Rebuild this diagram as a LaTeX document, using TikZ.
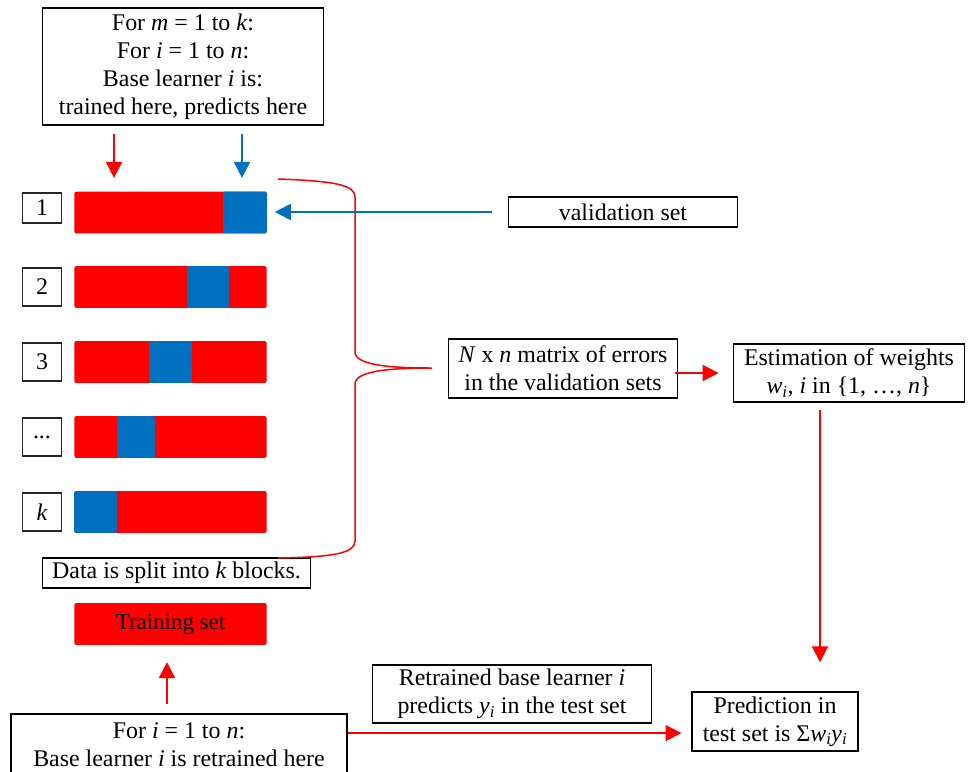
\documentclass[tikz,border=0pt]{standalone}
\usepackage{fontspec}
\setmainfont{Liberation Serif}
\usepackage{tikz}
\usetikzlibrary{arrows.meta, positioning}
\definecolor{SplitRed}{RGB}{255, 0, 0}
\definecolor{FoldBlue}{RGB}{0, 112, 192}

\begin{document}
\begin{tikzpicture}[
        x=1bp, y=-1bp,
        every node/.style={font=\fontsize{24}{28}\selectfont, align=center, inner sep=0pt},
        textbox/.style={rectangle, draw=black, line width=1.8pt, text centered},
        idxbox/.style={rectangle, draw=black!85, line width=1.5pt, minimum width=39pt, minimum height=38pt},
        databar/.style={rectangle, rounded corners=2pt, fill=SplitRed, minimum width=193pt, minimum height=42pt},
        foldbar/.style={rectangle, rounded corners=2pt, fill=FoldBlue, minimum height=42pt},
        redarrow/.style={line width=1.8pt, SplitRed, -{Triangle[length=16pt, width=16pt]}},
        bluearrow/.style={line width=1.8pt, FoldBlue, -{Triangle[length=16pt, width=16pt]}}
    ]
        \useasboundingbox (0,0) rectangle (970,772);

        \node (loop) [textbox, minimum width=282pt, minimum height=117pt] at (183,66.5) {For \textit{m} = 1 to \textit{k}:\\For \textit{i} = 1 to \textit{n}:\\Base learner \textit{i} is:\\trained here, predicts here};

        % the k folds
        \node (bar1) [databar] at (170.5,212.5) {};
        \node (fold1) [foldbar, minimum width=44pt] at (245,212.5) {};
        \node (bar2) [databar] at (170.5,287) {};
        \node (fold2) [foldbar, minimum width=42pt] at (208,287) {};
        \node (bar3) [databar] at (170.5,362) {};
        \node (fold3) [foldbar, minimum width=43pt] at (170.5,362) {};
        \node (bar4) [databar] at (170.5,437) {};
        \node (fold4) [foldbar, minimum width=38pt] at (136,437) {};
        \node (bar5) [databar] at (170.5,512) {};
        \node (fold5) [foldbar, minimum width=43pt] at (95.5,512) {};

        \node (idx1) [idxbox, minimum height=30pt, left=12bp of bar1, yshift=4.5pt] {1};
        \node (idx2) [idxbox, left=12bp of bar2] {2};
        \node (idx3) [idxbox, left=12bp of bar3] {3};
        \node (idx4) [idxbox, left=12bp of bar4] {...};
        \node (idx5) [idxbox, left=12bp of bar5] {\textit{k}};

        \node (valset) [textbox, minimum width=230pt, minimum height=30pt] at (623,212) {validation set};
        \node (errors) [textbox, minimum width=230pt, minimum height=59pt] at (563,368.5) {\textit{N} x \textit{n} matrix of errors\\in the validation sets};
        \node (weights) [textbox, minimum width=232pt, minimum height=58pt] at (849,373) {Estimation of weights\\\textit{w}\textsubscript{\textit{i}}, \textit{i} in \{1, …, \textit{n}\}};
        \node (split) [textbox, minimum width=269pt, minimum height=30pt] at (176.5,573) {Data is split into \textit{k} blocks.};
        \node (trainset) [databar, font=\fontsize{23}{28}\selectfont] at (170.5,624) {Training set};
        \node (retrain) [textbox, minimum width=338pt, minimum height=62pt] at (179,745) {For \textit{i} = 1 to \textit{n}:\\Base learner \textit{i} is retrained here};
        \node (retest) [textbox, minimum width=280pt, minimum height=58pt] at (512,694) {Retrained base learner \textit{i}\\predicts \textit{y}\textsubscript{\textit{i}} in the test set};
        \node (pred) [textbox, minimum width=166pt, minimum height=59pt] at (775,721.5) {Prediction in\\test set is Σ\textit{w}\textsubscript{\textit{i}}\textit{y}\textsubscript{\textit{i}}};

        \coordinate (trainin) at (114,0);
        \coordinate (predin) at (242,0);
        \coordinate (wdrop) at (820,0);
        \coordinate (updrop) at (167,0);
        \coordinate (testrow) at ([yshift=12pt]retrain.east);

        % brace over the folds
        \draw [SplitRed, line width=1.5pt] (278,179) .. controls (335,181) and (355,185) .. (355,197) -- (355,352) .. controls (355,366) and (395,368) .. (432,368) .. controls (395,368) and (355,370) .. (355,384) -- (355,541) .. controls (355,553) and (335,557) .. (278,558);

        \draw [redarrow, shorten <=8pt, shorten >=13.5pt] (loop.south -| trainin) -- (bar1.north -| trainin);
        \draw [bluearrow, shorten <=8pt, shorten >=13.5pt] (loop.south -| predin) -- (bar1.north -| predin);
        \draw [bluearrow, shorten <=16pt, shorten >=8pt] (valset.west) -- (bar1.east |- valset.west);
        \draw [redarrow, shorten <=-3pt, shorten >=14pt] (errors.east |- weights.west) -- (weights.west);
        \draw [redarrow, shorten <=7pt, shorten >=29pt] (weights.south -| wdrop) -- (pred.north -| wdrop);
        \draw [redarrow, shorten <=9pt, shorten >=17pt] (retrain.north -| updrop) -- (trainset.south -| updrop);
        \draw [redarrow, shorten >=10pt] (testrow) -- (testrow -| pred.west);
    \end{tikzpicture}
\end{document}
